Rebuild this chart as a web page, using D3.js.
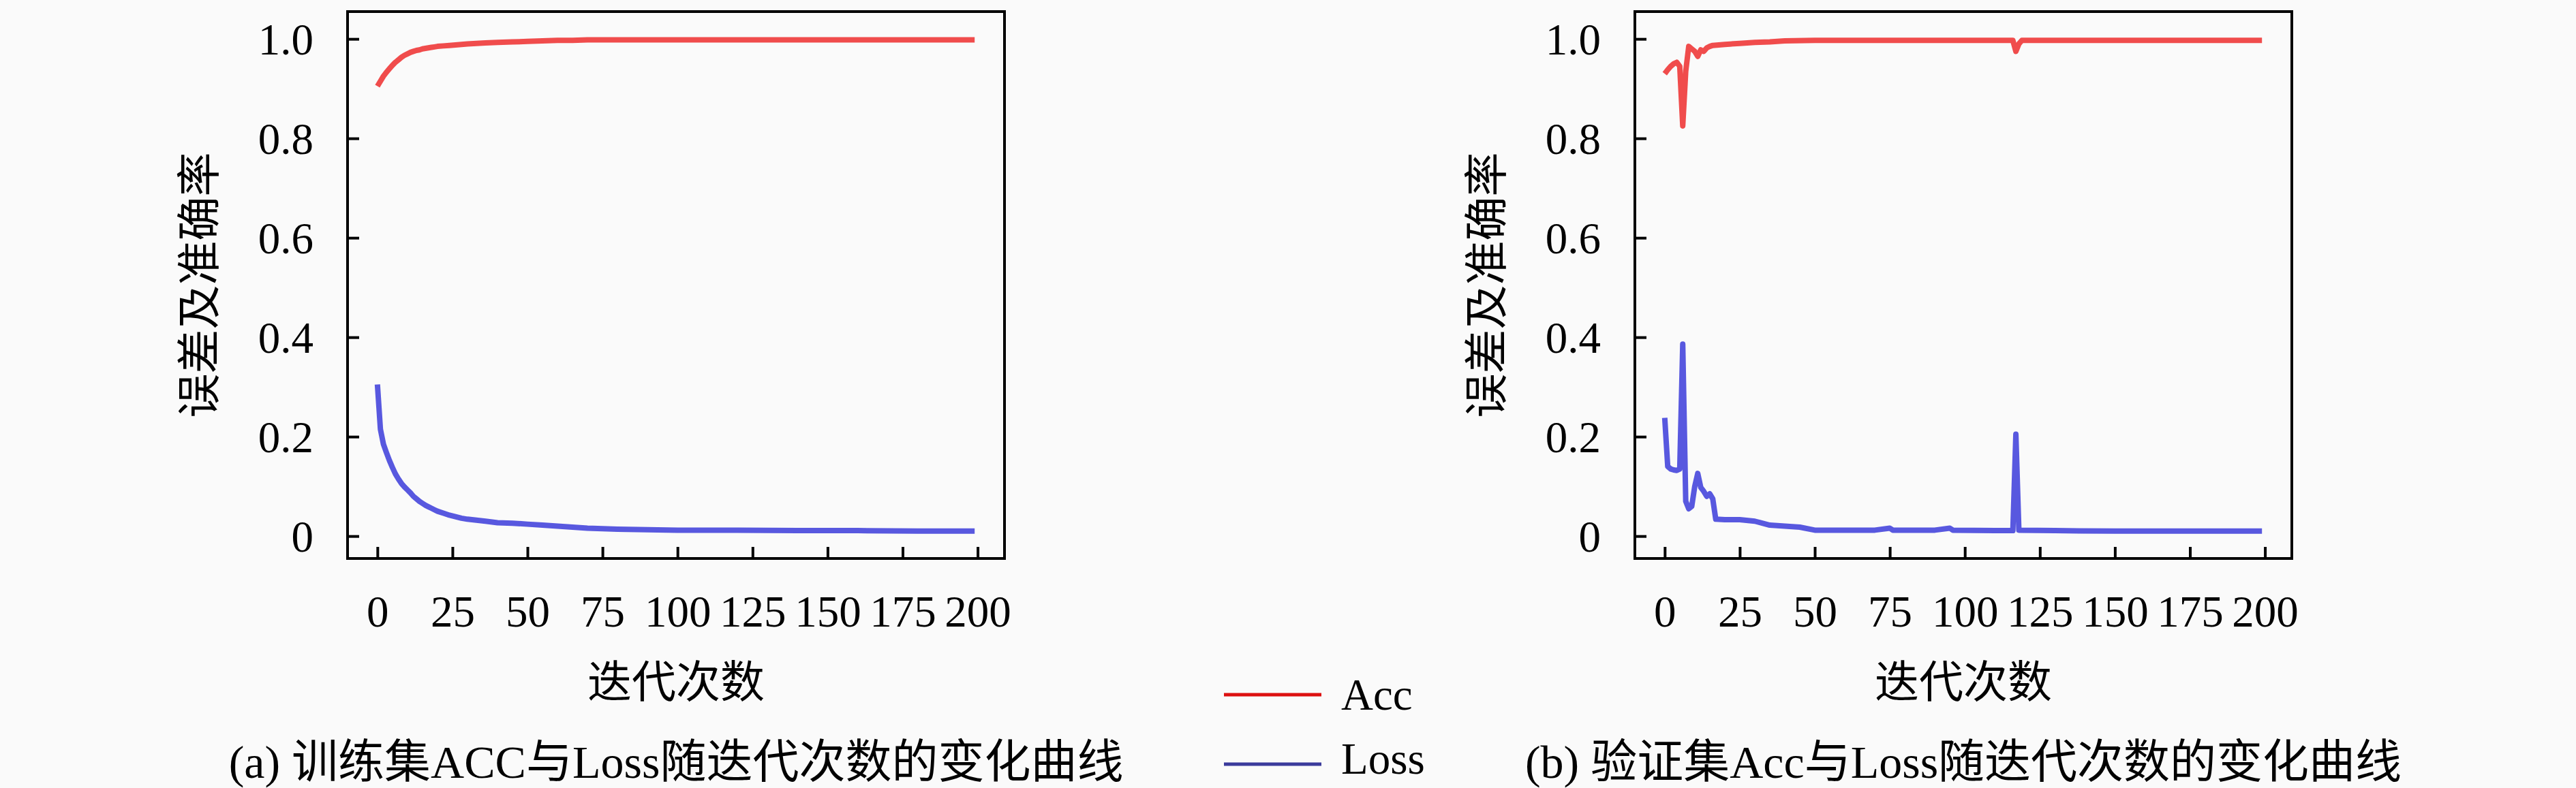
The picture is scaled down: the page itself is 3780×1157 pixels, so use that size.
<!DOCTYPE html>
<html>
<head>
<meta charset="utf-8">
<script src="https://cdn.jsdelivr.net/npm/d3@7"></script>
<style>
  html, body { margin: 0; padding: 0; background: #fafafa; }
  text { font-family: "Liberation Serif", "Noto Sans CJK SC", serif; fill: #000; }
</style>
</head>
<body>
<svg id="chart" width="3780" height="1157"></svg>
<script>
// ---- data ----
let xTicks = [0, 25, 50, 75, 100, 125, 150, 175, 200]
let yTicks = [0, 0.2, 0.4, 0.6, 0.8, 1.0]
let yTickLabels = ["0", "0.2", "0.4", "0.6", "0.8", "1.0"]

// (a) training set
let trainEpoch = [0, 1, 2, 3, 4, 5, 6, 7, 8, 9, 10, 11, 12, 13, 14, 15, 16, 17, 18, 19, 20,
  22, 24, 26, 28, 30, 33, 36, 40, 45, 50, 55, 60, 65, 70, 80, 90, 100, 120, 140, 160, 180, 199]
let trainAcc = [0.905, 0.915, 0.925, 0.933, 0.940, 0.947, 0.953, 0.958, 0.963, 0.967, 0.970,
  0.973, 0.975, 0.977, 0.978, 0.980, 0.981, 0.982, 0.983, 0.984, 0.985,
  0.986, 0.987, 0.988, 0.989, 0.990, 0.991, 0.992, 0.993, 0.994, 0.995, 0.996, 0.997, 0.997,
  0.998, 0.998, 0.998, 0.998, 0.998, 0.998, 0.998, 0.998, 0.998]
let trainLoss = [0.305, 0.215, 0.185, 0.168, 0.152, 0.138, 0.125, 0.115, 0.106, 0.099, 0.093,
  0.087, 0.080, 0.075, 0.070, 0.066, 0.062, 0.059, 0.056, 0.053, 0.050,
  0.046, 0.042, 0.039, 0.036, 0.034, 0.032, 0.030, 0.027, 0.026, 0.024, 0.022, 0.020, 0.018,
  0.016, 0.014, 0.013, 0.012, 0.012, 0.011, 0.011, 0.010, 0.010]

// (b) validation set
let valAccEpoch = [0, 1, 2, 3, 4, 5, 6, 7, 8, 9, 10, 11, 12, 13, 14, 15, 16, 18, 20, 25, 30,
  35, 40, 50, 60, 80, 100, 116, 117, 118, 119, 140, 160, 180, 199]
let valAcc = [0.930, 0.938, 0.945, 0.950, 0.953, 0.945, 0.825, 0.935, 0.985, 0.980, 0.975,
  0.965, 0.978, 0.975, 0.982, 0.985, 0.987, 0.988, 0.989, 0.991, 0.993,
  0.994, 0.996, 0.997, 0.997, 0.997, 0.997, 0.997, 0.975, 0.990, 0.997, 0.997, 0.997, 0.997, 0.997]
let valLossEpoch = [0, 1, 2, 3, 4, 5, 6, 7, 8, 9, 10, 11, 12, 13, 14, 15, 16, 17, 20, 25, 30,
  35, 40, 45, 50, 60, 70, 75, 76, 90, 95, 96, 110, 116, 117, 118, 130, 150, 170, 199]
let valLoss = [0.238, 0.140, 0.135, 0.133, 0.132, 0.135, 0.386, 0.070, 0.055, 0.060, 0.100,
  0.126, 0.098, 0.090, 0.080, 0.085, 0.075, 0.034, 0.033, 0.033, 0.030,
  0.022, 0.020, 0.018, 0.012, 0.012, 0.012, 0.016, 0.012, 0.012, 0.016, 0.012, 0.011, 0.011,
  0.205, 0.012, 0.011, 0.010, 0.010, 0.010]

let seriesNames = ["Acc", "Loss"]
let seriesColors = ["#ee2020", "#3030d8"]
let titles = ["(a) 训练集ACC与Loss随迭代次数的变化曲线", "(b) 验证集Acc与Loss随迭代次数的变化曲线"]
let xLabel = "迭代次数"
let yLabel = "误差及准确率"

// ---- layout ----
let fontSize = 65,
  plotW = 964,
  plotH = 803,
  panelLeft = [510, 2399],
  panelTop = 17,
  svg = d3.select("#chart")

let x = d3.scaleLinear().domain([-9.95, 208.95]).range([0, plotW])
let y = d3.scaleLinear().domain([-0.045, 1.055]).range([plotH, 0])

function draw_panel(left, series, title) {
  let g = svg.append("g").attr("transform", `translate(${left},${panelTop})`)

  let line = d3.line()
    .x(d => x(d[0]))
    .y(d => y(d[1]))

  series.forEach((s, i) => {
    g.append("path")
      .datum(d3.zip(s.epoch, s.values))
      .attr("d", line)
      .attr("fill", "none")
      .attr("stroke", seriesColors[i])
      .attr("stroke-opacity", 0.8)
      .attr("stroke-width", 8)
      .attr("stroke-linejoin", "round")
  })

  let yAxis = d3.axisLeft(y)
    .tickValues(yTicks)
    .tickFormat((d, i) => yTickLabels[i])
    .tickSizeInner(-17)
    .tickSizeOuter(0)
    .tickPadding(50)
  let xAxis = d3.axisBottom(x)
    .tickValues(xTicks)
    .tickFormat(d3.format("d"))
    .tickSizeInner(-17)
    .tickSizeOuter(0)
    .tickPadding(54)

  let ya = g.append("g").call(yAxis)
  let xa = g.append("g").attr("transform", `translate(0,${plotH})`).call(xAxis)
  for (let a of [ya, xa]) {
    a.select(".domain").remove()
    a.selectAll("line").attr("stroke", "#000").attr("stroke-width", 4)
    a.selectAll("text")
      .style("font-family", '"Liberation Serif", serif')
      .style("font-size", fontSize + "px")
      .attr("fill", "#000")
  }
  ya.selectAll("text").attr("dy", "0.34em")

  g.append("rect")
    .attr("width", plotW)
    .attr("height", plotH)
    .attr("fill", "none")
    .attr("stroke", "#000")
    .attr("stroke-width", 4)

  g.append("text")
    .attr("transform", `translate(-217,${plotH / 2}) rotate(-90)`)
    .attr("text-anchor", "middle")
    .attr("dominant-baseline", "central")
    .style("font-size", fontSize + "px")
    .text(yLabel)

  g.append("text")
    .attr("x", plotW / 2)
    .attr("y", 1024 - panelTop)
    .attr("text-anchor", "middle")
    .style("font-size", fontSize + "px")
    .text(xLabel)

  g.append("text")
    .attr("x", plotW / 2)
    .attr("y", 1142 - panelTop)
    .attr("text-anchor", "middle")
    .style("font-size", "68px")
    .text(title)
}

draw_panel(panelLeft[0], [
  {epoch: trainEpoch, values: trainAcc},
  {epoch: trainEpoch, values: trainLoss}
], titles[0])

draw_panel(panelLeft[1], [
  {epoch: valAccEpoch, values: valAcc},
  {epoch: valLossEpoch, values: valLoss}
], titles[1])

// ---- legend between the panels ----
let legendY = [1020, 1122]
let legendColors = ["#dd1111", "#3b3b9b"]
let legend = svg.append("g")
seriesNames.forEach((name, i) => {
  legend.append("line")
    .attr("x1", 1796).attr("x2", 1939)
    .attr("y1", legendY[i]).attr("y2", legendY[i])
    .attr("stroke", legendColors[i])
    .attr("stroke-width", 5)
  legend.append("text")
    .attr("x", 1968)
    .attr("y", legendY[i] + (i == 0 ? 22 : 14))
    .style("font-size", fontSize + "px")
    .text(name)
})
</script>
</body>
</html>
